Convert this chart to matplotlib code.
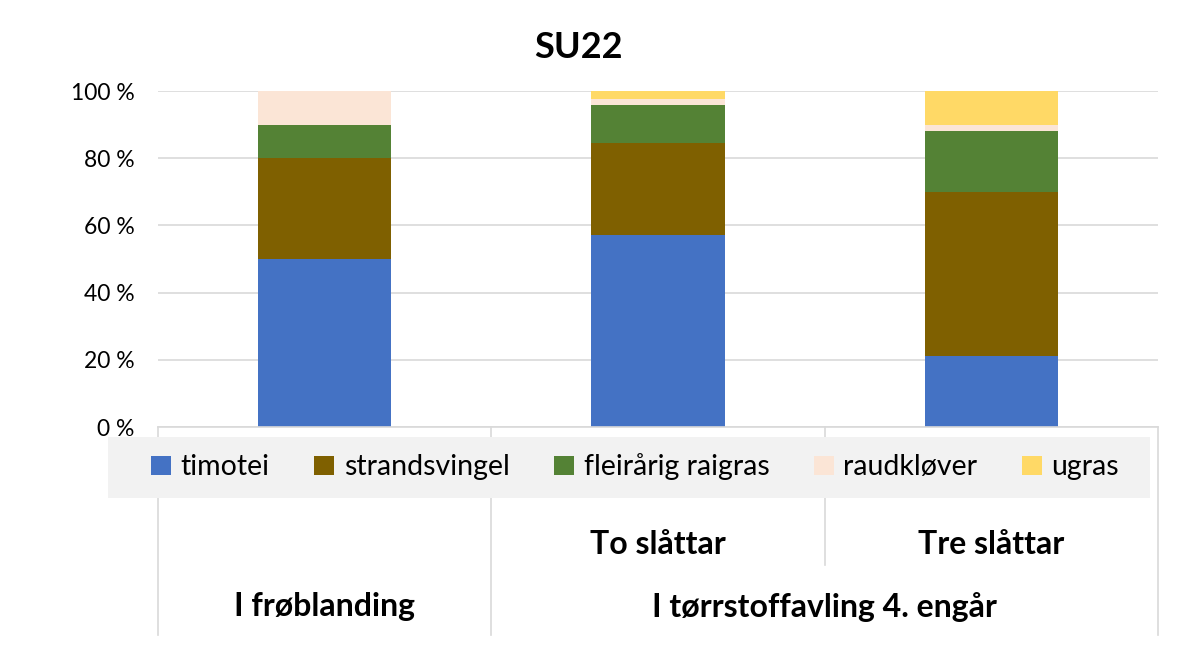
import numpy as np
import matplotlib.pyplot as plt
import matplotlib.transforms as mtransforms
from matplotlib.patches import Rectangle

plt.rcParams['font.family'] = ['Lato', 'DejaVu Sans']

# data (percent of total)
sub_labels = ['', 'To slåttar', 'Tre slåttar']
groups = ['I frøblanding', 'I tørrstoffavling 4. engår']
group_span = [(0, 0), (1, 2)]
series = ['timotei', 'strandsvingel', 'fleirårig raigras', 'raudkløver', 'ugras']
timotei = [50, 57, 21]
strandsvingel = [30, 27.5, 49]
raigras = [10, 11.2, 18]
raudklover = [10, 2, 2]
ugras = [0, 2.3, 10]
colors = ['#4472C4', '#7F6000', '#548235', '#FBE5D6', '#FFD966']

values = [timotei, strandsvingel, raigras, raudklover, ugras]

fig = plt.figure(figsize=(12, 6.47), dpi=100)
ax = fig.add_axes([158/1200, 1-427/647, 1000/1200, 336/647])

x = np.arange(len(sub_labels))
bottom = np.zeros(len(x))
for name, vals, c in zip(series, values, colors):
    ax.bar(x, vals, 0.4, bottom=bottom, color=c, label=name, zorder=2)
    bottom += np.array(vals)

ax.set_xlim(-0.5, 2.5)
ax.set_ylim(0, 100)
ax.set_yticks(range(0, 101, 20))
ax.set_yticklabels([f'{v} %' for v in range(0, 101, 20)], fontsize=16.5)
ax.tick_params(axis='y', length=0, pad=17)
ax.set_xticks([])
ax.grid(axis='y', color='#d9d9d9', linewidth=1.2, zorder=0)
for s in ['top', 'right', 'left']:
    ax.spines[s].set_visible(False)
ax.spines['bottom'].set_color('#d9d9d9')
ax.spines['bottom'].set_linewidth(1.2)

# multi-level category axis
trans = mtransforms.blended_transform_factory(ax.transData, ax.transAxes)
for xs in [-0.5, 0.5, 2.5]:
    ax.plot([xs, xs], [0, -0.62], transform=trans, color='#d9d9d9', lw=1.2, clip_on=False)
ax.plot([1.5, 1.5], [0, -0.41], transform=trans, color='#d9d9d9', lw=1.2, clip_on=False)
for i, lab in enumerate(sub_labels):
    ax.text(i, -0.35, lab, transform=trans, ha='center', va='center',
            fontsize=23, fontweight='bold')
for g, (a, b) in zip(groups, group_span):
    ax.text((a + b) / 2, -0.535, g, transform=trans, ha='center', va='center',
            fontsize=23, fontweight='bold')

# legend background box
fig.patches.append(Rectangle((108/1200, 1-498/647), 1042/1200, 61/647,
                             transform=fig.transFigure, facecolor='#f2f2f2',
                             edgecolor='none', zorder=3))
leg = fig.legend(loc='center', ncol=5, bbox_to_anchor=(635/1200, 1-467/647),
                 fontsize=20.5, frameon=False,
                 handlelength=0.7, handleheight=0.7, handletextpad=0.35,
                 columnspacing=1.55)
leg.set_zorder(4)

fig.text(578/1200, 1-48/647, 'SU22', ha='center', va='center', fontsize=26, fontweight='bold')

fig.savefig('out.png', dpi=100)
